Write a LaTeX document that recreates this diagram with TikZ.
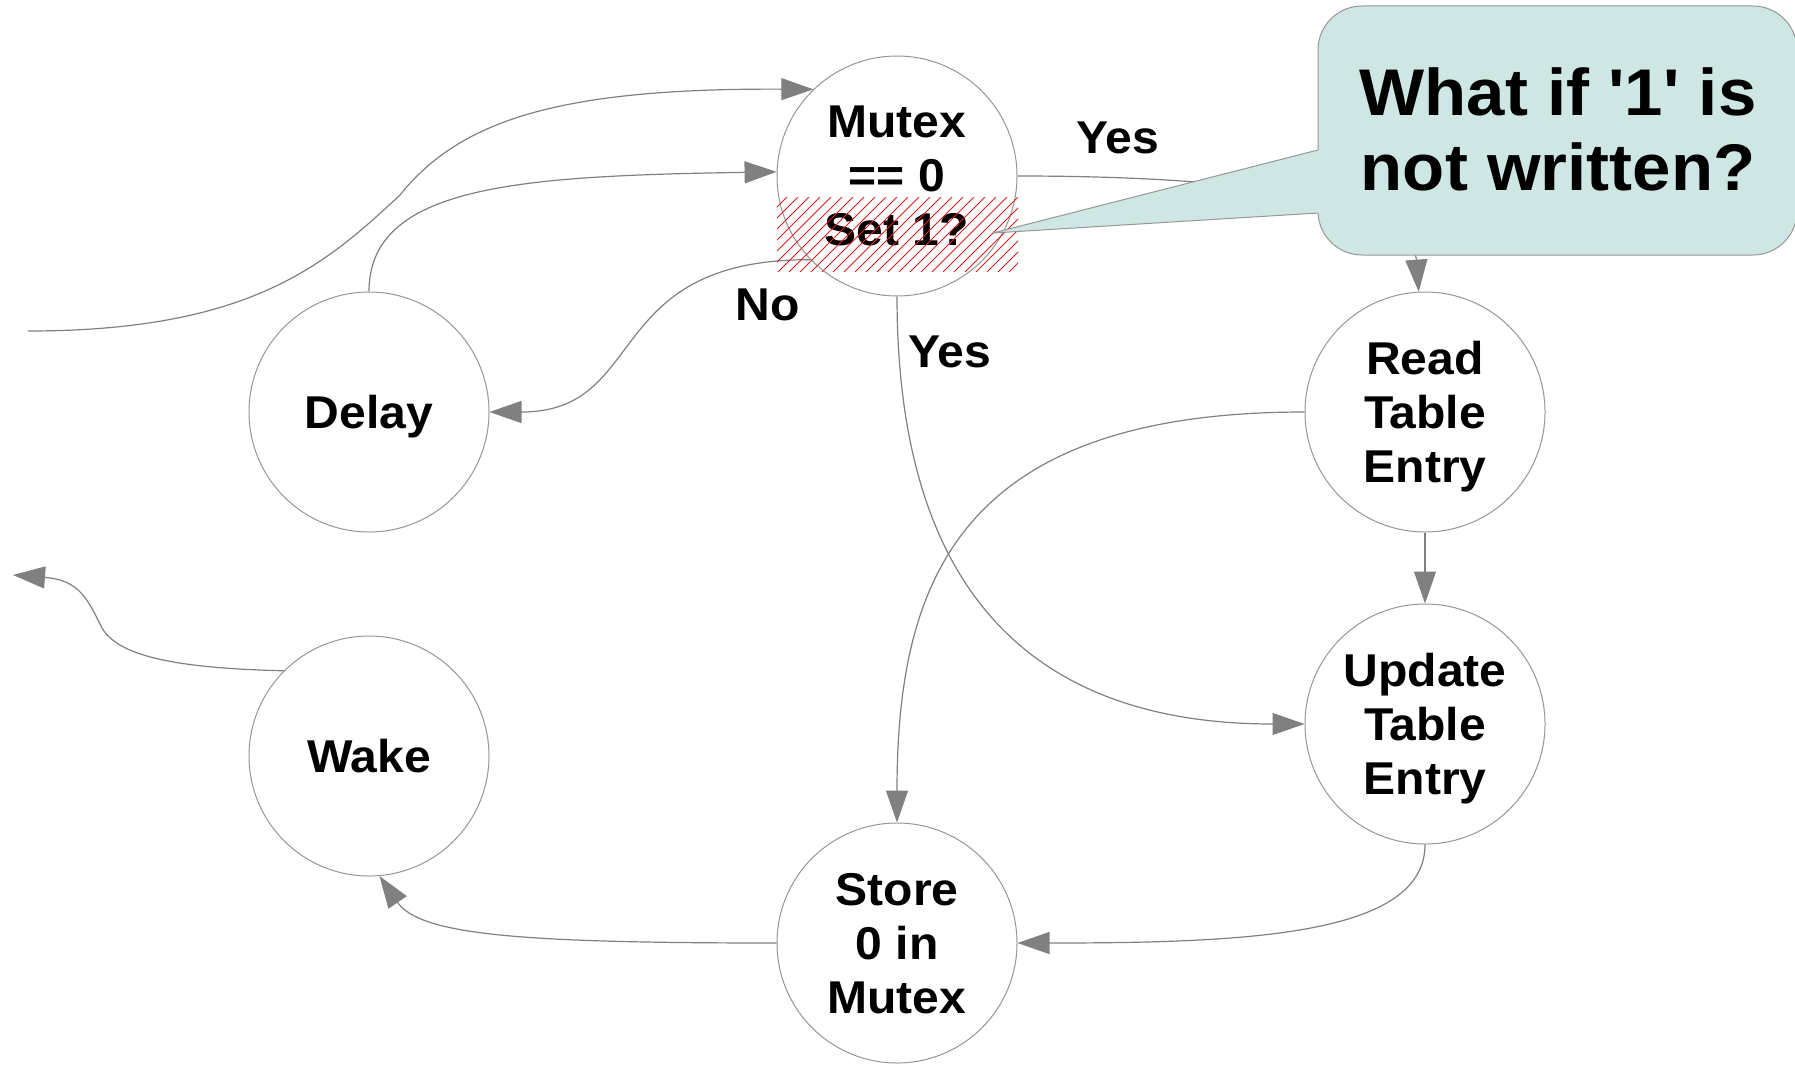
\documentclass[tikz,border=0pt]{standalone}
\usepackage{fontspec}
\setmainfont{Liberation Sans}[Ligatures=TeXOff,FakeStretch=1.045]
\usetikzlibrary{arrows.meta}
\definecolor{edgegray}{RGB}{128,128,128}
\definecolor{ringgray}{RGB}{150,150,150}
\definecolor{calloutfill}{RGB}{207,231,228}
\definecolor{hatchred}{RGB}{225,30,30}

\begin{document}
\begin{tikzpicture}[x=1pt,y=-1pt,
  state/.style={circle,draw=ringgray,line width=1pt,fill=white,minimum size=240pt,
                inner sep=0pt,align=center,text depth=0pt,
                font=\fontsize{46}{54}\selectfont\bfseries},
  flow/.style={draw=edgegray,line width=1.2pt,-{Triangle[length=32pt,width=22pt,fill=edgegray]}},
  tag/.style={font=\fontsize{46}{54}\selectfont\bfseries,inner sep=0pt},
  bubble/.style={draw=ringgray,fill=calloutfill,line width=1pt}]
\useasboundingbox (0,0) rectangle (1795,1065);

% states
\node[state] (mutex)  at (897,176)  {Mutex\\== 0\\Set 1?};
\node[state] (delay)  at (369,412)  {Delay};
\node[state] (wake)   at (369,756)  {Wake};
\node[state] (read)   at (1425,412) {Read\\Table\\Entry};
\node[state] (update) at (1425,724) {Update\\Table\\Entry};
\node[state] (store)  at (897,943)  {Store\\0 in\\Mutex};

% loose ends
\coordinate (entry) at (28,331);
\coordinate (exit)  at (13,575);

% transitions
\draw[flow] (entry) .. controls (250,331) and (325,265) .. (400,195)
                    .. controls (460,120) and (560,88) .. (mutex.134);
\draw[flow] (delay.90) .. controls (369,185) and (520,176) .. (mutex.178);
\draw[flow] (mutex.224) .. controls (600,259) and (650,412) .. (delay.0);
\draw[flow] (mutex.0) .. controls (1250,176) and (1412,200) .. (read.93);
\draw[flow] (mutex.270) .. controls (897,600) and (1040,724) .. (update.180);
\draw[flow] (read.180) .. controls (960,412) and (897,580) .. (store.90);
\draw[flow] (read.270) -- (update.90);
\draw[flow] (update.270) .. controls (1425,935) and (1250,943) .. (store.0);
\draw[flow] (store.180) .. controls (520,943) and (420,935) .. (wake.275);
\draw[flow] (wake.135) .. controls (170,668) and (118,655) .. (102,628)
                       .. controls (88,600) and (80,580) .. (exit);

% branch labels
\node[tag] (yesright) at (1118,138) {Yes};
\node[tag] (no)       at (768,305)  {No};
\node[tag] (yesdown)  at (950,352)  {Yes};

% hatched test-and-set band
\begin{scope}
  \clip (777,197) rectangle (1018,272);
  \foreach \k in {-7,...,22}
    \draw[hatchred,line width=0.9pt] ({778+11*\k},272) -- ({853+11*\k},197);
\end{scope}

% speech bubble
\draw[bubble] (1318,6) [rounded corners=44pt] rectangle (1797,255);
\fill[calloutfill] (993,233) -- (1318,150) -- (1322,150) -- (1322,213) -- (1318,213) -- cycle;
\draw[ringgray,line width=1pt] (1318,150) -- (993,233) -- (1318,213);
\node[font=\fontsize{66}{75}\selectfont\bfseries,align=center,inner sep=0pt] (question)
  at (1558,129) {What if '1' is\\not written?};
\end{tikzpicture}
\end{document}
